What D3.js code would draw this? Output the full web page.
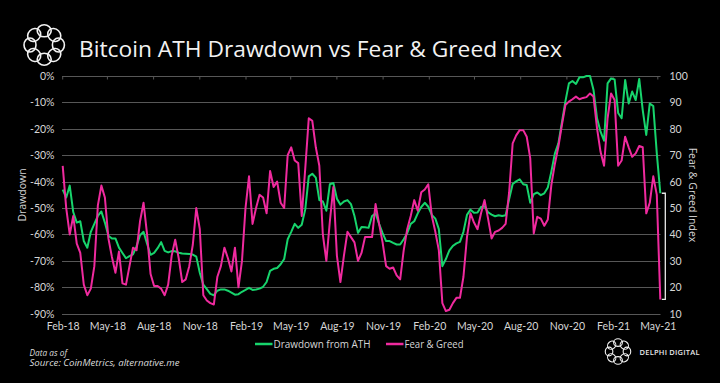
<!DOCTYPE html>
<html><head><meta charset="utf-8">
<script src="https://cdn.jsdelivr.net/npm/d3@7"></script>
<style>html,body{margin:0;padding:0;background:#000;}svg{display:block;}</style>
</head><body><svg id="c" width="720" height="383"></svg>
<script>
// ---- DATA ----
const dates = [
"2018-02-01","2018-02-08","2018-02-15","2018-02-22","2018-03-01","2018-03-08","2018-03-15","2018-03-22","2018-03-29","2018-04-05",
"2018-04-12","2018-04-19","2018-04-26","2018-05-03","2018-05-10","2018-05-17","2018-05-24","2018-05-31","2018-06-07","2018-06-14",
"2018-06-21","2018-06-28","2018-07-05","2018-07-12","2018-07-19","2018-07-26","2018-08-02","2018-08-09","2018-08-16","2018-08-23",
"2018-08-30","2018-09-06","2018-09-13","2018-09-20","2018-09-27","2018-10-04","2018-10-11","2018-10-18","2018-10-25","2018-11-01",
"2018-11-08","2018-11-15","2018-11-22","2018-11-29","2018-12-06","2018-12-13","2018-12-20","2018-12-27","2019-01-03","2019-01-10",
"2019-01-17","2019-01-24","2019-01-31","2019-02-07","2019-02-14","2019-02-21","2019-02-28","2019-03-07","2019-03-14","2019-03-21",
"2019-03-28","2019-04-04","2019-04-11","2019-04-18","2019-04-25","2019-05-02","2019-05-09","2019-05-16","2019-05-23","2019-05-30",
"2019-06-06","2019-06-13","2019-06-20","2019-06-27","2019-07-04","2019-07-11","2019-07-18","2019-07-25","2019-08-01","2019-08-08",
"2019-08-15","2019-08-22","2019-08-29","2019-09-05","2019-09-12","2019-09-19","2019-09-26","2019-10-03","2019-10-10","2019-10-17",
"2019-10-24","2019-10-31","2019-11-07","2019-11-14","2019-11-21","2019-11-28","2019-12-05","2019-12-12","2019-12-19","2019-12-26",
"2020-01-02","2020-01-09","2020-01-16","2020-01-23","2020-01-30","2020-02-06","2020-02-13","2020-02-20","2020-02-27","2020-03-05",
"2020-03-12","2020-03-19","2020-03-26","2020-04-02","2020-04-09","2020-04-16","2020-04-23","2020-04-30","2020-05-07","2020-05-14",
"2020-05-21","2020-05-28","2020-06-04","2020-06-11","2020-06-18","2020-06-25","2020-07-02","2020-07-09","2020-07-16","2020-07-23",
"2020-07-30","2020-08-06","2020-08-13","2020-08-20","2020-08-27","2020-09-03","2020-09-10","2020-09-17","2020-09-24","2020-10-01",
"2020-10-08","2020-10-15","2020-10-22","2020-10-29","2020-11-05","2020-11-12","2020-11-19","2020-11-26","2020-12-03","2020-12-10",
"2020-12-17","2020-12-24","2020-12-31","2021-01-07","2021-01-14","2021-01-21","2021-01-28","2021-02-04","2021-02-11","2021-02-18",
"2021-02-25","2021-03-04","2021-03-11","2021-03-18","2021-03-25","2021-04-01","2021-04-08","2021-04-15","2021-04-22","2021-04-29",
"2021-05-06"];

const drawdown = [
-43,-46,-41.5,-51.5,-55.5,-55,-62.5,-65,-59,-56,
-53,-51.3,-55.5,-60.5,-61.5,-61.5,-65,-67,-69,-68.2,
-67.5,-64.5,-60.3,-59,-63.5,-67.7,-67,-65.2,-62.9,-66.2,
-66.8,-66.3,-66.4,-66.9,-67.2,-67.3,-67.4,-67.6,-68.4,-74.5,
-79,-80.7,-82.5,-83,-81.3,-80.8,-80.8,-81.3,-82,-82.8,
-82.6,-81.7,-81,-80.2,-81,-80.8,-80.5,-79.8,-78,-73.8,
-73,-72.7,-71.3,-69.3,-61.8,-59,-56,-57.5,-56.3,-50.5,
-38,-37,-38.5,-47,-47.5,-51,-41,-40.5,-46.5,-48.7,
-47.5,-47,-48.5,-53,-59.4,-57.2,-57.3,-57.5,-53,-52,
-56,-59.5,-62.5,-62.5,-63.2,-63.8,-63.8,-61.8,-59.5,-56,
-55,-52,-49.6,-48,-49.5,-52.6,-54,-58,-72,-69.3,
-66,-64.3,-63.4,-62.8,-59,-52.6,-50.6,-51.8,-51.7,-49.6,
-49.3,-51.6,-52.5,-53.1,-52.7,-53,-52.7,-46.6,-40.9,-39.9,
-39.1,-41,-41.3,-48,-44.7,-44.1,-45.1,-44.4,-42.2,-36.2,
-29.4,-25.5,-17.6,-9.6,-2.8,-1.9,-3,-0.5,-0.5,0,
0,-5.3,-16,-21.1,-24.5,-2.8,-0.9,-1.3,-14,-16,
-1.5,-10.4,-5.9,-9.1,-1.1,-12.9,-22.3,-10.4,-11.4,-29.3,
-44.4];

const fearGreed = [
66,50,40,47,36.5,33,21,17,19.5,28,
51,58.5,54,38.5,31.5,25.5,33.5,21.5,21,28,
35,34,45,52,40,25,20.5,20.5,19.5,17,
21,32,38,31,22,23,28,36,50,42,
17,15,14,13.5,24,28,35,31,26,35,
20,30,50,62,44,50,55,54,48,64,
58,60,52,50,70,73,68,67,47,65,
84,83,73,66,40,30,45,58,32,22,
32,41,39,37,30,33,39,39,39,51.5,
44,37,28,27,27.5,24.5,23,34,42,47,
53,49,56,57,59,47,41,34,14,11,
11.5,14,16,16,24,39,48,44.5,42,48,
53,46,38.5,41,41.5,42.5,44,56,74.5,77.5,
79.5,79.5,77,68.8,40.4,46.7,46,43.3,45.7,58.7,
66.7,73.2,81.4,89,90.3,91.2,92.2,91.2,91.7,92,
93.4,92.2,80.2,71.3,66,84,93.4,90.9,66,68,
77,73,69.4,70.7,73.5,73,48,52,62,55,
15.4];

const xTickLabels = ["Feb-18","May-18","Aug-18","Nov-18","Feb-19","May-19","Aug-19","Nov-19","Feb-20","May-20","Aug-20","Nov-20","Feb-21","May-21"];
const leftTicks = [0,-10,-20,-30,-40,-50,-60,-70,-80,-90];
const rightTicks = [100,90,80,70,60,50,40,30,20,10];
const seriesNames = ["Drawdown from ATH","Fear & Greed"];

// ---- CHART ----
const FONT = "'Open Sans', 'DejaVu Sans', sans-serif";
const TICKFONT = "Lato, 'Open Sans', sans-serif";
const GREEN = "#17d46c", PINK = "#ef2a9e", TXT = "#d6d6d6", GRID = "#575757";
const svg = d3.select("#c");
svg.append("rect").attr("width",720).attr("height",383).attr("fill","#000");

const parse = d3.utcParse("%Y-%m-%d");
const parseTick = d3.utcParse("%b-%y");
const x = d3.scaleUtc().domain([parse("2018-02-01"), parse("2021-05-01")]).range([62.7, 657.8]);
const yL = d3.scaleLinear().domain([-90, 0]).range([313.7, 76]);
const yR = d3.scaleLinear().domain([10, 100]).range([313.7, 76]);
const X0 = 62, X1 = 660.5;

// gridlines
svg.append("g").selectAll("line").data(leftTicks).join("line")
  .attr("x1", X0).attr("x2", X1)
  .attr("y1", d => Math.round(yL(d)) + 0.5).attr("y2", d => Math.round(yL(d)) + 0.5)
  .attr("stroke", GRID).attr("stroke-width", 1);

// x tick marks at top axis line
const tickDates = xTickLabels.map(parseTick);
svg.append("g").selectAll("line").data(tickDates).join("line")
  .attr("x1", d => x(d)).attr("x2", d => x(d))
  .attr("y1", yL(0)).attr("y2", yL(0) + 3.5)
  .attr("stroke", GRID).attr("stroke-width", 1);

// left axis
const gL = svg.append("g").attr("transform", "translate(54.5,0)")
  .call(d3.axisLeft(yL).tickValues(leftTicks).tickSize(0).tickPadding(0).tickFormat(d => d + "%"));
gL.select(".domain").remove();
gL.selectAll("text").attr("fill", TXT).style("font-family", TICKFONT).style("font-size", "10.5px");

// right axis
const gR = svg.append("g").attr("transform", "translate(669.5,0)")
  .call(d3.axisRight(yR).tickValues(rightTicks).tickSize(0).tickPadding(0));
gR.select(".domain").remove();
gR.selectAll("text").attr("fill", TXT).style("font-family", TICKFONT).style("font-size", "10.5px");

// bottom axis labels
const gB = svg.append("g").attr("transform", "translate(0,322.8)")
  .call(d3.axisBottom(x).tickValues(tickDates).tickSize(0).tickPadding(0).tickFormat((d, i) => xTickLabels[i]));
gB.select(".domain").remove();
gB.selectAll("text").attr("fill", TXT).style("font-family", TICKFONT).style("font-size", "10.5px");

// axis titles
svg.append("text").attr("transform", "translate(25.5,195) rotate(-90)").attr("text-anchor", "middle")
  .attr("fill", TXT).style("font-family", FONT).style("font-size", "10.5px").text("Drawdown");
svg.append("text").attr("transform", "translate(689,195) rotate(90)").attr("text-anchor", "middle")
  .attr("fill", TXT).style("font-family", FONT).style("font-size", "10.5px").text("Fear & Greed Index");

// lines
const pts = dates.map(parse);
const lineL = d3.line().x((d, i) => x(pts[i])).y(d => yL(d)).curve(d3.curveLinear);
const lineR = d3.line().x((d, i) => x(pts[i])).y(d => yR(d)).curve(d3.curveLinear);
svg.append("path").datum(drawdown).attr("d", lineL).attr("fill", "none")
  .attr("stroke", GREEN).attr("stroke-width", 2).attr("stroke-linejoin", "round");
svg.append("path").datum(fearGreed).attr("d", lineR).attr("fill", "none")
  .attr("stroke", PINK).attr("stroke-width", 2).attr("stroke-linejoin", "round");

// bracket between the last values
const lastX = x(pts[pts.length - 1]);
const yTop = yL(drawdown[drawdown.length - 1]), yBot = yR(fearGreed[fearGreed.length - 1]);
svg.append("path")
  .attr("d", `M${lastX + 1.5},${yTop} H${lastX + 5} V${yBot} H${lastX + 1.5}`)
  .attr("fill", "none").attr("stroke", "#e8e8e8").attr("stroke-width", 1.3);

// title
svg.append("text").attr("x", 79).attr("y", 56.7).attr("fill", "#f2f2f2")
  .style("font-family", FONT).style("font-size", "21px")
  .attr("textLength", 483).attr("lengthAdjust", "spacingAndGlyphs")
  .text("Bitcoin ATH Drawdown vs Fear & Greed Index");

// logo
function logo(cx, cy, s, sw) {
  const g = svg.append("g").attr("transform", `translate(${cx},${cy}) scale(${s})`);
  d3.range(8).forEach(i => {
    const a = i * 45;
    g.append("ellipse").attr("transform", `rotate(${a}) translate(0,-14.2)`)
      .attr("rx", 7).attr("ry", 6).attr("fill", "none")
      .attr("stroke", "#f2f2f2").attr("stroke-width", sw / s);
  });
}
logo(44.2, 45, 1, 1.6);
logo(618, 351.5, 0.63, 1.1);
svg.append("text").attr("x", 639.5).attr("y", 355).attr("fill", "#e8e8e8")
  .style("font-family", FONT).style("font-size", "7.5px").style("font-weight", "600")
  .attr("textLength", 60).attr("lengthAdjust", "spacing").text("DELPHI DIGITAL");

// legend
const lg = svg.append("g");
[[255, GREEN, 273.5, 97], [386, PINK, 404.5, 59]].forEach(([lx, col, tx, tw], i) => {
  lg.append("line").attr("x1", lx).attr("x2", lx + 17.5).attr("y1", 344).attr("y2", 344)
    .attr("stroke", col).attr("stroke-width", 2.5);
  lg.append("text").attr("x", tx).attr("y", 347.7).attr("fill", TXT)
    .style("font-family", FONT).style("font-size", "10.5px")
    .attr("textLength", tw).attr("lengthAdjust", "spacingAndGlyphs").text(seriesNames[i]);
});

// footer
svg.append("text").attr("x", 29.5).attr("y", 355.5).attr("fill", "#dcdcdc")
  .style("font-family", FONT).style("font-size", "8.3px").style("font-style", "italic")
  .text("Data as of");
svg.append("text").attr("x", 29.5).attr("y", 366).attr("fill", "#dcdcdc")
  .style("font-family", FONT).style("font-size", "8.3px").style("font-style", "italic")
  .attr("textLength", 150).attr("lengthAdjust", "spacingAndGlyphs")
  .text("Source: CoinMetrics, alternative.me");
</script></body></html>
